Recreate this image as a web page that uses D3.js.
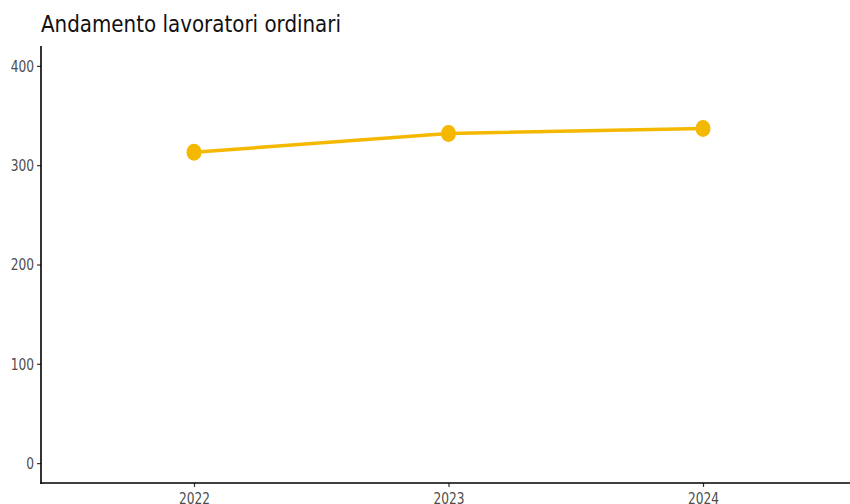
<!DOCTYPE html>
<html>
<head>
<meta charset="utf-8">
<script src="https://d3js.org/d3.v7.min.js"></script>
<style>
  body { margin: 0; background: #fff; }
</style>
</head>
<body>
<div id="chart"></div>
<script>
  // Chart data
  const years = ['2022', '2023', '2024'];
  const workers = [313, 332, 337];
  const yTicks = [0, 100, 200, 300, 400];
  const title = 'Andamento lavoratori ordinari';

  const width = 850, height = 504;
  const margin = {left: 41, top: 46, bottom: 21};

  const svg = d3.select('#chart')
    .append('svg')
    .attr('width', width)
    .attr('height', height);

  const x = d3.scalePoint()
    .domain(years)
    .range([194, 703]);

  const y = d3.scaleLinear()
    .domain([-20, 420])
    .range([height - margin.bottom, margin.top]);

  // the reference is squeezed horizontally
  const squeeze = 0.74;
  function squeezeText(sel) {
    sel.style('font-family', 'DejaVu Sans')
      .style('font-size', '16.5px')
      .style('fill', '#4d4d4d')
      .each(function() {
        const w = this.getComputedTextLength();
        d3.select(this).attr('textLength', w * squeeze).attr('lengthAdjust', 'spacingAndGlyphs');
      });
  }

  // y axis
  const yAxis = svg.append('g')
    .attr('transform', `translate(${margin.left},0)`)
    .call(d3.axisLeft(y).tickValues(yTicks).tickSize(4).tickPadding(3).tickSizeOuter(0));
  yAxis.select('.domain').remove();
  yAxis.append('line')
    .attr('x1', 0).attr('x2', 0)
    .attr('y1', margin.top).attr('y2', height - margin.bottom + 0.8)
    .style('stroke', '#000').style('stroke-width', 1.6);
  yAxis.selectAll('.tick line').style('stroke', '#333').style('stroke-width', 1.2);
  yAxis.selectAll('.tick text').call(squeezeText);

  // x axis
  const xAxis = svg.append('g')
    .attr('transform', `translate(0,${height - margin.bottom})`)
    .call(d3.axisBottom(x).tickSize(4).tickPadding(5));
  xAxis.select('.domain').remove();
  xAxis.append('line')
    .attr('x1', margin.left - 0.8).attr('x2', width)
    .attr('y1', 0).attr('y2', 0)
    .style('stroke', '#000').style('stroke-width', 1.6);
  xAxis.selectAll('.tick line').style('stroke', '#333').style('stroke-width', 1.2);
  xAxis.selectAll('.tick text').call(squeezeText);

  // line
  const data = years.map((d, i) => ({year: d, value: workers[i]}));
  svg.append('path')
    .datum(data)
    .attr('d', d3.line().x(d => x(d.year)).y(d => y(d.value)))
    .style('fill', 'none')
    .style('stroke', '#F5B800')
    .style('stroke-width', 3.5);

  svg.selectAll('.dot')
    .data(data)
    .enter()
    .append('ellipse')
    .attr('class', 'dot')
    .attr('cx', d => x(d.year))
    .attr('cy', d => y(d.value))
    .attr('rx', 7.5)
    .attr('ry', 8.5)
    .style('fill', '#F5B800');

  // title
  svg.append('text')
    .attr('x', 41)
    .attr('y', 32)
    .attr('textLength', 300)
    .attr('lengthAdjust', 'spacingAndGlyphs')
    .text(title)
    .style('font-family', 'DejaVu Sans')
    .style('font-size', '23px')
    .style('fill', '#111');
</script>
</body>
</html>
